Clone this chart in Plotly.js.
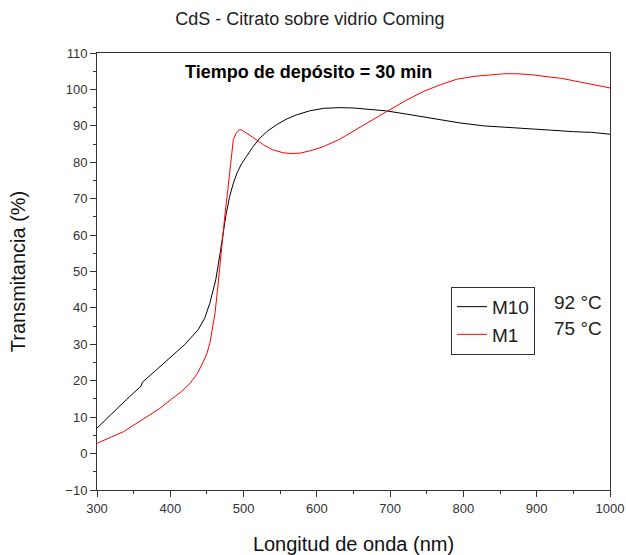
<!DOCTYPE html>
<html>
<head>
<meta charset="utf-8">
<script src="https://cdn.plot.ly/plotly-3.0.1.min.js"></script>
<style>html,body{margin:0;padding:0;background:#fff;}#chart{width:626px;height:555px;}</style>
</head>
<body>
<div id="chart"></div>
<script>
// Wavelength (nm) and transmittance (%)
const wlM10 = [300, 320, 340, 360, 362, 380, 400, 420, 438, 447, 454, 462, 468, 472, 476, 481, 486, 491, 497, 504, 512, 522, 533, 545, 558, 572, 590, 609, 630, 650, 670, 695, 720, 745, 768, 795, 827, 855, 886, 920, 950, 975, 1000];
const tM10  = [7.0, 11.0, 14.8, 18.5, 19.6, 22.8, 26.3, 30.0, 34.0, 37.2, 41.3, 47.7, 55.0, 60.5, 65.5, 70.6, 74.2, 77.0, 79.5, 81.6, 84.0, 86.6, 88.6, 90.3, 91.8, 93.0, 94.1, 94.8, 95.0, 94.9, 94.6, 94.1, 93.3, 92.5, 91.6, 90.8, 90.0, 89.6, 89.1, 88.8, 88.4, 88.2, 87.7];

const wlM1 = [300, 310, 320, 336, 350, 368, 385, 400, 415, 427, 437, 445, 450, 454, 458, 461, 465, 468, 472, 475, 478, 481, 484, 486, 490, 494, 497, 502, 507, 513, 520, 527, 540, 554, 565, 577, 592, 609, 631, 650, 670, 695, 720, 745, 770, 791, 815, 836, 855, 873, 895, 914, 935, 950, 975, 1000];
const tM1  = [2.8, 3.6, 4.6, 6.0, 7.8, 10.1, 12.3, 14.7, 17.0, 19.3, 22.0, 25.2, 27.5, 30.3, 34.5, 38.5, 46.0, 52.3, 61.4, 66.5, 71.5, 77.0, 82.5, 86.2, 88.0, 88.9, 88.9, 88.3, 87.6, 86.8, 85.8, 84.8, 83.4, 82.6, 82.4, 82.5, 83.2, 84.3, 86.3, 88.6, 91.0, 93.9, 96.8, 99.4, 101.4, 102.8, 103.6, 104.0, 104.3, 104.3, 104.0, 103.5, 103.0, 102.4, 101.5, 100.4];

const seriesNames = ["M10", "M1"];
const tempLabels = ["92 °C", "75 °C"];

const traces = [
  {x: wlM10, y: tM10, name: seriesNames[0], type: "scatter", mode: "lines",
   line: {color: "#000000", width: 1}},
  {x: wlM1, y: tM1, name: seriesNames[1], type: "scatter", mode: "lines",
   line: {color: "#ff0000", width: 1}}
];

const layout = {
  width: 626, height: 555,
  margin: {l: 97, r: 16, t: 53, b: 65},
  paper_bgcolor: "#ffffff", plot_bgcolor: "#ffffff",
  font: {family: "Arial, Liberation Sans, sans-serif", color: "#333"},
  title: {text: "CdS - Citrato sobre vidrio Coming", x: 0.495, xref: "container", xanchor: "center",
          y: 0.967, yref: "container", yanchor: "middle",
          font: {size: 18, color: "#222"}},
  xaxis: {
    range: [300, 1000], tick0: 300, dtick: 100,
    showgrid: false, zeroline: false, showline: true, linecolor: "#333", linewidth: 1,
    mirror: true, ticks: "outside", ticklen: 6, tickcolor: "#333", tickwidth: 1,
    tickfont: {size: 13, color: "#333"},
    minor: {dtick: 50, ticks: "outside", ticklen: 3, tickcolor: "#333", showgrid: false},
    title: {text: "Longitud de onda (nm)", font: {size: 20, color: "#111"}, standoff: 22}
  },
  yaxis: {
    range: [-10, 110], tick0: -10, dtick: 10,
    showgrid: false, zeroline: false, showline: true, linecolor: "#333", linewidth: 1,
    mirror: true, ticks: "outside", ticklen: 6, tickcolor: "#333", tickwidth: 1,
    tickfont: {size: 13, color: "#333"},
    minor: {dtick: 5, ticks: "outside", ticklen: 3, tickcolor: "#333", showgrid: false},
    title: {text: "Transmitancia (%)", font: {size: 20, color: "#111"}, standoff: 34}
  },
  showlegend: true,
  legend: {x: 0.69, y: 0.465, xanchor: "left", yanchor: "top",
           bordercolor: "#333", borderwidth: 1, bgcolor: "#ffffff",
           font: {size: 19, color: "#222"}, tracegroupgap: 0, itemwidth: 30},
  annotations: [
    {text: "<b>Tiempo de depósito = 30 min</b>", xref: "paper", yref: "paper",
     x: 0.167, y: 0.956, xanchor: "left", yanchor: "middle", showarrow: false,
     font: {size: 18, color: "#000"}},
    {text: tempLabels[0], xref: "paper", yref: "paper", x: 0.887, y: 0.428,
     xanchor: "left", yanchor: "middle", showarrow: false, font: {size: 19, color: "#222"}},
    {text: tempLabels[1], xref: "paper", yref: "paper", x: 0.887, y: 0.370,
     xanchor: "left", yanchor: "middle", showarrow: false, font: {size: 19, color: "#222"}}
  ]
};

Plotly.newPlot("chart", traces, layout, {displayModeBar: false, staticPlot: true});
</script>
</body>
</html>
